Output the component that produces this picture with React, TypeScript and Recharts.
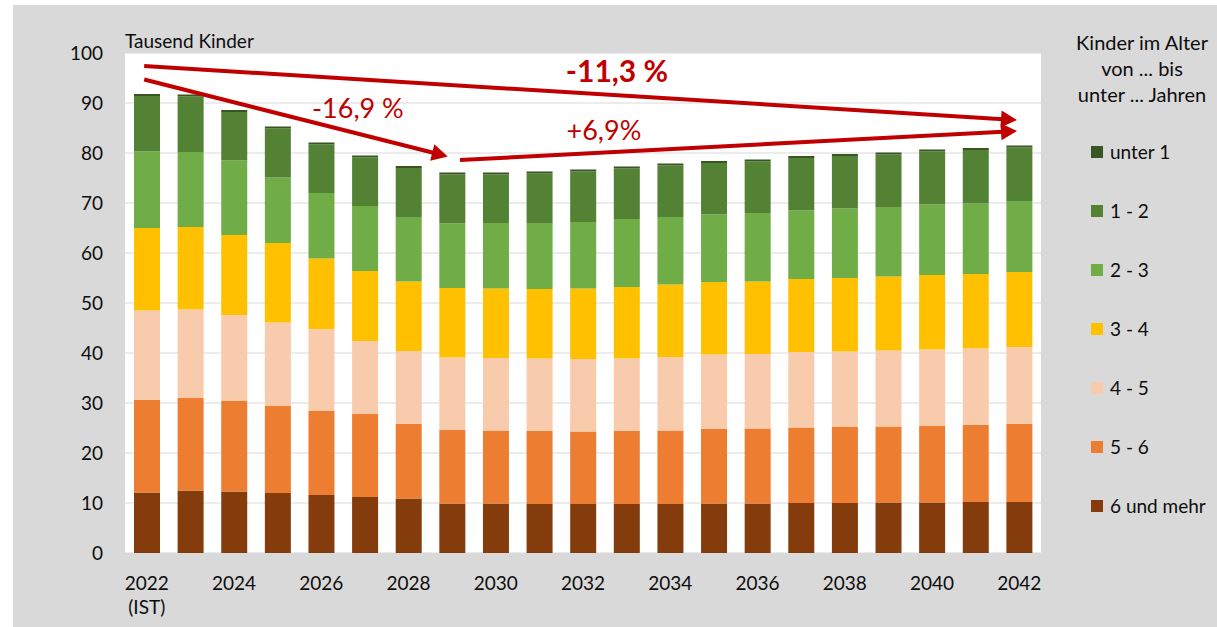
import {
  BarChart,
  Bar,
  XAxis,
  YAxis,
  CartesianGrid,
  ReferenceLine,
  ReferenceDot,
  Legend
} from 'recharts';

// Jahre (2022 = Ist-Wert)
const years = [
  '2022', '2023', '2024', '2025', '2026', '2027', '2028', '2029', '2030', '2031', '2032',
  '2033', '2034', '2035', '2036', '2037', '2038', '2039', '2040', '2041', '2042'
];

// Tausend Kinder je Altersgruppe
const age6plus = [12.1, 12.5, 12.3, 12.0, 11.6, 11.2, 10.9, 9.9, 9.9, 9.8, 9.8, 9.8, 9.8, 9.9, 9.9, 10.0, 10.0, 10.1, 10.1, 10.2, 10.2];
const age5to6 = [18.5, 18.5, 18.1, 17.4, 16.8, 16.6, 14.9, 14.7, 14.6, 14.6, 14.5, 14.6, 14.7, 14.9, 15.0, 15.1, 15.2, 15.2, 15.3, 15.4, 15.6];
const age4to5 = [17.9, 17.7, 17.2, 16.7, 16.4, 14.6, 14.6, 14.5, 14.5, 14.5, 14.5, 14.5, 14.7, 14.9, 14.9, 15.1, 15.1, 15.2, 15.3, 15.3, 15.4];
const age3to4 = [16.5, 16.5, 16.0, 15.9, 14.1, 14.0, 13.9, 13.9, 13.9, 13.9, 14.1, 14.3, 14.5, 14.5, 14.5, 14.6, 14.7, 14.8, 14.9, 14.9, 15.0];
const age2to3 = [15.3, 15.0, 14.9, 13.1, 13.1, 13.0, 12.9, 12.9, 13.1, 13.2, 13.3, 13.6, 13.5, 13.5, 13.7, 13.7, 13.9, 13.9, 14.1, 14.1, 14.2];
const age1to2 = [11.1, 11.1, 9.7, 9.8, 9.7, 9.7, 9.8, 9.8, 9.7, 9.9, 10.1, 10.1, 10.3, 10.3, 10.3, 10.5, 10.5, 10.5, 10.6, 10.7, 10.7];
const ageUnder1 = [0.4, 0.4, 0.4, 0.4, 0.4, 0.4, 0.4, 0.4, 0.4, 0.4, 0.4, 0.4, 0.4, 0.4, 0.4, 0.4, 0.4, 0.4, 0.4, 0.4, 0.4];

const yTicks = [0, 10, 20, 30, 40, 50, 60, 70, 80, 90, 100];

// Reihenfolge von unten nach oben
const series = [
  { key: 'a6', name: '6 und mehr', color: '#843c0c', values: age6plus },
  { key: 'a5', name: '5 - 6', color: '#ed7d31', values: age5to6 },
  { key: 'a4', name: '4 - 5', color: '#f8cbad', values: age4to5 },
  { key: 'a3', name: '3 - 4', color: '#ffc000', values: age3to4 },
  { key: 'a2', name: '2 - 3', color: '#70ad47', values: age2to3 },
  { key: 'a1', name: '1 - 2', color: '#548235', values: age1to2 },
  { key: 'a0', name: 'unter 1', color: '#375623', values: ageUnder1 }
];

// Pfeile in Datenkoordinaten (x = Index der Jahre)
const arrows = [
  { from: { x: -0.06, y: 97.4 }, to: { x: 19.95, y: 86.6 } },
  { from: { x: -0.06, y: 94.7 }, to: { x: 6.9, y: 79.3 } },
  { from: { x: 7.18, y: 78.6 }, to: { x: 19.95, y: 84.4 } }
];

const changeLabels = [
  { x: 10.78, y: 96.4, text: '-11,3 %', bold: true, size: 30 },
  { x: 4.84, y: 89.0, text: '-16,9 %', bold: false, size: 27 },
  { x: 10.48, y: 84.6, text: '+6,9%', bold: false, size: 27 }
];

const RED = '#c00000';
const TEXT = '#0d0d0d';

const data = years.map((year, i) => {
  const row: Record<string, string | number> = { year, pos: i };
  series.forEach(s => { row[s.key] = s.values[i]; });
  return row;
});

const Arrow = (props: any) => {
  const { x1, y1, x2, y2 } = props;
  const dx = x2 - x1;
  const dy = y2 - y1;
  const len = Math.hypot(dx, dy) || 1;
  const ux = dx / len;
  const uy = dy / len;
  const head = 16;
  const half = 8.5;
  const bx = x2 - ux * head;
  const by = y2 - uy * head;
  return (
    <g>
      <line x1={x1} y1={y1} x2={bx + ux * 2} y2={by + uy * 2} stroke={RED} strokeWidth={4} />
      <polygon
        points={`${x2},${y2} ${bx - uy * half},${by + ux * half} ${bx + uy * half},${by - ux * half}`}
        fill={RED}
      />
    </g>
  );
};

const YearTick = (props: any) => {
  const { x, y, payload } = props;
  return (
    <text x={x} y={y} textAnchor="middle" fill={TEXT} fontSize={19}>
      <tspan x={x} dy={37}>{payload.value}</tspan>
      {payload.value === '2022' && <tspan x={x} dy={24}>(IST)</tspan>}
    </text>
  );
};

const UnitLabel = (props: any) => {
  const { viewBox } = props;
  return (
    <text x={viewBox.x + viewBox.width} y={viewBox.y - 5} fill={TEXT} fontSize={19}>
      Tausend Kinder
    </text>
  );
};

// Legende: oberste Altersgruppe zuerst
const LegendBox = () => {
  const items = [...series].reverse();
  return (
    <div style={{ width: 160, color: TEXT, fontSize: 19 }}>
      <div style={{ textAlign: 'center', lineHeight: '26px', fontSize: 20, marginTop: 29 }}>
        Kinder im Alter<br />von ... bis<br />unter ... Jahren
      </div>
      <div style={{ marginTop: 15 }}>
        {items.map(item => (
          <div key={item.key} style={{ display: 'flex', alignItems: 'center', height: 59, paddingLeft: 29 }}>
            <span style={{ width: 12, height: 12, background: item.color, marginRight: 7, display: 'inline-block' }} />
            <span>{item.name}</span>
          </div>
        ))}
      </div>
    </div>
  );
};

export default function App() {
  return (
    <div style={{ position: 'absolute', left: 0, top: 0, width: 1217, height: 627, background: '#ffffff', fontFamily: 'Lato, "Open Sans", sans-serif', overflow: 'hidden' }}>
      <div style={{ position: 'absolute', left: 13, top: 5, right: 0, bottom: 0, background: '#d9d9d9' }} />
      <div style={{ position: 'absolute', left: 0, top: 0 }}>
        <BarChart
          width={1217}
          height={627}
          data={data}
          margin={{ top: 53, right: 176, bottom: 14, left: 65 }}
        >
          <CartesianGrid vertical={false} stroke="#d9d9d9" fill="#ffffff" />
          <XAxis
            dataKey="year"
            interval={1}
            tickLine={false}
            axisLine={false}
            tickSize={0}
            tickMargin={0}
            height={60}
            tick={<YearTick />}
          />
          <XAxis xAxisId="n" dataKey="pos" type="number" domain={[-0.5, 20.5]} allowDataOverflow hide />
          <YAxis
            domain={[0, 100]}
            ticks={yTicks}
            width={60}
            tickLine={false}
            axisLine={false}
            tickSize={0}
            tickMargin={22}
            tick={{ fill: TEXT, fontSize: 19 }}
            label={{ content: <UnitLabel /> }}
          />
          <Legend
            layout="vertical"
            align="center"
            verticalAlign="middle"
            wrapperStyle={{ left: 1062, top: 0, width: 160 }}
            content={<LegendBox />}
          />
          {series.map(s => (
            <Bar
              key={s.key}
              dataKey={s.key}
              name={s.name}
              stackId="kinder"
              fill={s.color}
              barSize={26}
              isAnimationActive={false}
            />
          ))}
          {arrows.map((a, i) => (
            <ReferenceLine
              key={`arrow-${i}`}
              xAxisId="n"
              segment={[a.from, a.to]}
              ifOverflow="visible"
              shape={<Arrow />}
            />
          ))}
          {changeLabels.map(l => (
            <ReferenceDot
              key={l.text}
              xAxisId="n"
              x={l.x}
              y={l.y}
              r={1}
              fill="none"
              stroke="none"
              ifOverflow="visible"
              label={{ value: l.text, position: 'center', fill: RED, fontSize: l.size, fontWeight: l.bold ? 700 : 400 }}
            />
          ))}
        </BarChart>
      </div>
    </div>
  );
}
